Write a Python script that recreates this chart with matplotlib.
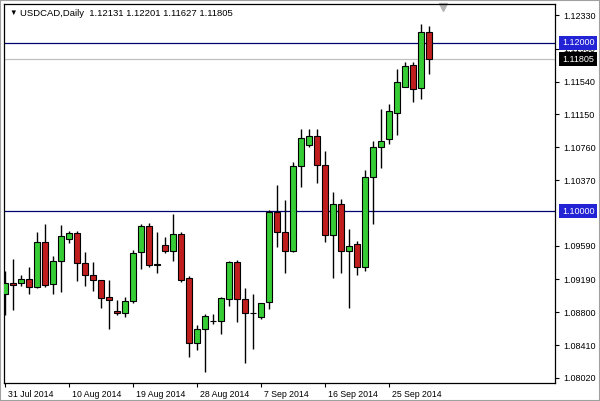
import numpy as np
import matplotlib
matplotlib.use("Agg")
import matplotlib.pyplot as plt
import matplotlib.transforms as mtransforms
from matplotlib.patches import Rectangle

plt.rcParams['font.family'] = ['Liberation Sans', 'DejaVu Sans']

# daily USDCAD candles, 31 Jul 2014 .. 1 Oct 2014
opens = [1.09014, 1.09144, 1.09151, 1.09192, 1.09097, 1.09631, 1.09132, 1.09405,
         1.09667, 1.09741, 1.09382, 1.09239, 1.09180, 1.08978, 1.08812, 1.08788,
         1.08930, 1.09512, 1.09821, 1.09373, 1.09595, 1.09531, 1.09730, 1.09204,
         1.08439, 1.08598, 1.08700, 1.08693, 1.08954, 1.09394, 1.08954, 1.08795,
         1.08740, 1.08919, 1.09994, 1.09750, 1.09531, 1.10537, 1.10783, 1.10893,
         1.10545, 1.09721, 1.10082, 1.09531, 1.09607, 1.09334, 1.10403, 1.10759,
         1.10854, 1.11170, 1.11479, 1.11733, 1.11467, 1.12131]
highs = [1.09294, 1.09429, 1.09239, 1.09334, 1.09753, 1.09848, 1.09465, 1.09836,
         1.09762, 1.09762, 1.09512, 1.09394, 1.09180, 1.09183, 1.08946, 1.08978,
         1.09540, 1.09848, 1.09857, 1.09753, 1.09698, 1.09967, 1.09750, 1.09234,
         1.08646, 1.08780, 1.08780, 1.08985, 1.09413, 1.09421, 1.09085, 1.09014,
         1.08915, 1.10015, 1.10311, 1.10133, 1.10585, 1.10973, 1.10973, 1.10973,
         1.10715, 1.10225, 1.10145, 1.09789, 1.09643, 1.10490, 1.10830, 1.11210,
         1.11273, 1.11689, 1.11772, 1.11772, 1.12223, 1.12201]
lows = [1.08768, 1.08827, 1.09112, 1.09017, 1.09085, 1.09097, 1.09021, 1.09044,
        1.09626, 1.09175, 1.09116, 1.09056, 1.08855, 1.08598, 1.08764, 1.08740,
        1.08907, 1.09310, 1.09341, 1.09263, 1.09508, 1.09413, 1.09163, 1.08266,
        1.08352, 1.08095, 1.08661, 1.08542, 1.08878, 1.08688, 1.08194, 1.08368,
        1.08717, 1.08843, 1.09572, 1.09270, 1.09512, 1.10291, 1.10766, 1.10339,
        1.09638, 1.09211, 1.09270, 1.08855, 1.09246, 1.09294, 1.09852, 1.10517,
        1.10798, 1.10909, 1.11470, 1.11301, 1.11336, 1.11627]
closes = [1.09144, 1.09120, 1.09192, 1.09097, 1.09631, 1.09120, 1.09405, 1.09702,
          1.09741, 1.09382, 1.09239, 1.09180, 1.08966, 1.08942, 1.08788, 1.08930,
          1.09500, 1.09821, 1.09358, 1.09358, 1.09531, 1.09730, 1.09183, 1.08439,
          1.08598, 1.08752, 1.08695, 1.08966, 1.09394, 1.08954, 1.08795, 1.08790,
          1.08907, 1.09994, 1.09750, 1.09531, 1.10537, 1.10866, 1.10893, 1.10545,
          1.09721, 1.10082, 1.09531, 1.09587, 1.09334, 1.10403, 1.10759, 1.10837,
          1.11187, 1.11531, 1.11724, 1.11455, 1.12131, 1.11805]

date_labels = ['31 Jul 2014', '10 Aug 2014', '19 Aug 2014', '28 Aug 2014',
               '7 Sep 2014', '16 Sep 2014', '25 Sep 2014']
date_pos = [0, 8, 16, 24, 32, 40, 48]
price_ticks = [1.12330, 1.11930, 1.11540, 1.11150, 1.10760, 1.10370,
               1.09590, 1.09190, 1.08800, 1.08410, 1.08020]
levels = [1.12000, 1.10000]
bid = 1.11805

o = np.array(opens)
h = np.array(highs)
l = np.array(lows)
c = np.array(closes)
idx = np.arange(len(o))
up = c >= o

fig = plt.figure(figsize=(6, 4.01), dpi=100)
ax = fig.add_axes([4 / 600, 18 / 401, 551 / 600, 379 / 401])

# wicks then bodies
ax.vlines(idx, l, h, color='black', lw=1, zorder=3)
body_bottom = np.minimum(o, c)
body_h = np.maximum(np.abs(c - o), 0.000015)
cols = np.where(up, '#36cc36', '#c01e1e')
ax.bar(idx, body_h, bottom=body_bottom, width=0.66, color=cols,
       edgecolor='black', linewidth=0.8, zorder=4)

for lv in levels:
    ax.axhline(lv, color='#000070', lw=0.9, zorder=2)
ax.axhline(bid, color='#c0c0c0', lw=0.9, zorder=1)

ax.set_xlim(-0.125, 68.75)
ax.set_ylim(1.07960, 1.12461)

ax.yaxis.tick_right()
ax.set_yticks(price_ticks)
ax.set_yticklabels(['%.5f' % t for t in price_ticks])
ax.tick_params(axis='y', direction='out', length=3, width=0.8, pad=3,
               labelsize=6.5, colors='black')

ax.set_xticks(date_pos)
ax.set_xticklabels(date_labels)
ax.tick_params(axis='x', direction='out', length=3, width=0.8, pad=2,
               labelsize=6.3)
shift = mtransforms.ScaledTranslation(2 / 72, 0, fig.dpi_scale_trans)
for lab in ax.get_xticklabels():
    lab.set_horizontalalignment('left')
    lab.set_transform(lab.get_transform() + shift)

for sp in ax.spines.values():
    sp.set_linewidth(0.9)
    sp.set_color('black')

# price labels on the right
trans = mtransforms.blended_transform_factory(ax.transAxes, ax.transData)
for lv in levels:
    ax.text(1.0127, lv, '%.5f' % lv, transform=trans, ha='left', va='center',
            color='white', fontsize=6.5, zorder=10,
            bbox=dict(boxstyle='square,pad=0.3', fc='#2323d6', ec='none'))
ax.text(1.0127, bid, '%.5f' % bid, transform=trans, ha='left', va='center',
        color='white', fontsize=6.5, zorder=10,
        bbox=dict(boxstyle='square,pad=0.3', fc='black', ec='none'))

# chart shift marker
ax.plot([0.797], [0.993], marker='v', color='#b4b4b4', markersize=6,
        transform=ax.transAxes, clip_on=False)

# header
fig.text(9 / 600, 1 - 13 / 401, '\u25bc', fontsize=5.5, va='center', ha='left')
fig.text(20 / 600, 1 - 13 / 401,
         'USDCAD,Daily  %.5f %.5f %.5f %.5f' % (o[-1], h[-1], l[-1], c[-1]),
         fontsize=6.8, va='center', ha='left')

fig.patches.append(Rectangle((0, 0), 1, 1, transform=fig.transFigure,
                             fill=False, edgecolor='#a0a0a0', lw=1.5))

fig.savefig('out.png', dpi=100)
